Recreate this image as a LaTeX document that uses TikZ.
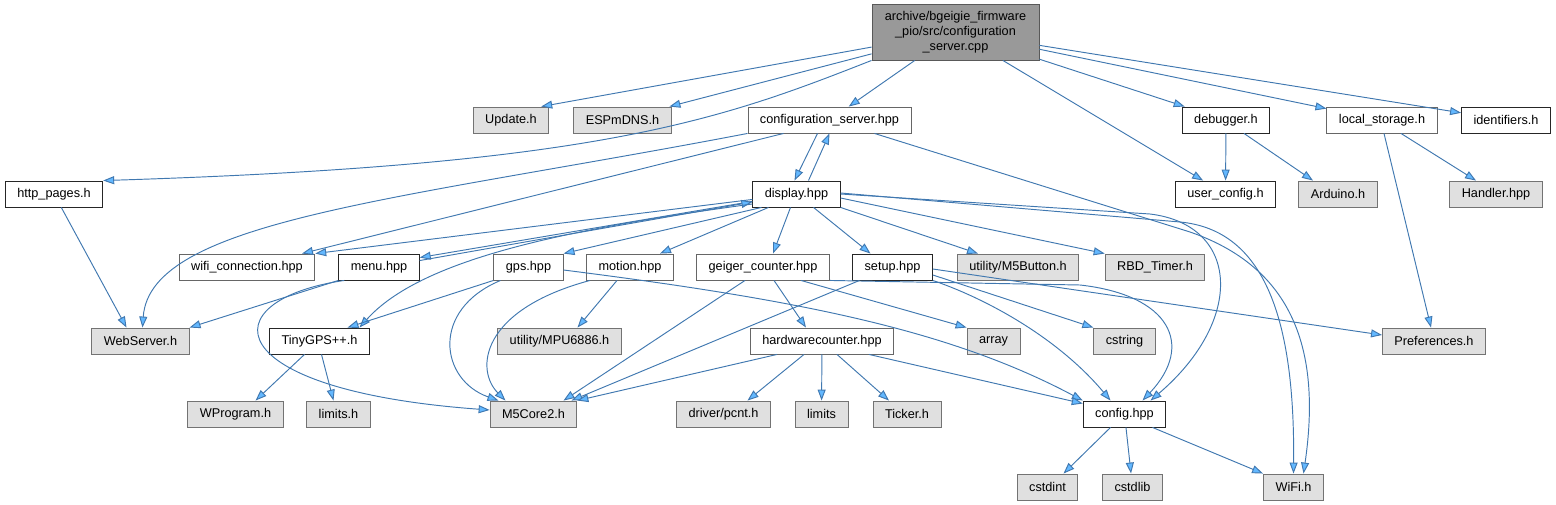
\documentclass[tikz,border=0pt]{standalone}
\usepackage{fontspec}
\setmainfont{Liberation Sans}
\usetikzlibrary{arrows.meta}
\definecolor{edgeblue}{RGB}{64,120,176}
\definecolor{tipblue}{RGB}{99,184,255}
\definecolor{extfill}{RGB}{224,224,224}
\definecolor{mainfill}{RGB}{153,153,153}
\begin{document}
\begin{tikzpicture}[x=1pt,y=-1pt,
  every node/.style={font=\fontsize{12.7}{15}\selectfont, inner xsep=12pt, inner ysep=0pt, minimum height=26pt},
  doc/.style={draw=black!85, fill=white, line width=0.9pt},
  docg/.style={draw=black!60, fill=white, line width=0.9pt},
  ext/.style={draw=black!55, fill=extfill, line width=0.9pt},
  mainfile/.style={draw=black!65, fill=mainfill, line width=0.9pt, align=center, minimum width=167pt, minimum height=56pt},
  inc/.style={draw=edgeblue, line width=0.95pt, -{Triangle[length=11pt,width=8pt,fill=tipblue]}}]
\useasboundingbox (0,0) rectangle (1556,505);

% the file itself
\node[mainfile] (mainf) at (955.5,32) {archive/bgeigie\_firmware\\\_pio/src/configuration\\\_server.cpp};

% first row
\node[ext] (upd) at (511,120) {Update.h};
\node[ext] (esp) at (622.5,120) {ESPmDNS.h};
\node[docg] (cfgsrv) at (829.5,120) {configuration\_server.hpp};
\node[doc] (dbg) at (1226,120) {debugger.h};
\node[docg] (lstore) at (1382,120) {local\_storage.h};
\node[doc] (ident) at (1506,120) {identifiers.h};

% second row
\node[doc] (http) at (54,194) {http\_pages.h};
\node[doc] (disp) at (796.5,194) {display.hpp};
\node[doc] (ucfg) at (1225.5,194) {user\_config.h};
\node[ext] (ard) at (1338,194) {Arduino.h};
\node[ext] (hand) at (1496,194) {Handler.hpp};

% third row
\node[docg] (wific) at (247,267) {wifi\_connection.hpp};
\node[doc] (menu) at (379,267) {menu.hpp};
\node[docg] (gps) at (528.5,267) {gps.hpp};
\node[docg] (motion) at (630,267) {motion.hpp};
\node[docg] (geiger) at (763,267) {geiger\_counter.hpp};
\node[doc] (setup) at (892.5,267) {setup.hpp};
\node[ext] (mbtn) at (1018,267) {utility/M5Button.h};
\node[ext] (rbd) at (1155,267) {RBD\_Timer.h};

% fourth row
\node[ext] (web) at (140.5,341) {WebServer.h};
\node[doc] (tiny) at (319.5,341) {TinyGPS++.h};
\node[ext] (mpu) at (559.5,341) {utility/MPU6886.h};
\node[docg] (hwc) at (822,341) {hardwarecounter.hpp};
\node[ext] (arr) at (993.5,341) {array};
\node[ext] (cstr) at (1124.5,341) {cstring};
\node[ext] (pref) at (1434,341) {Preferences.h};

% fifth row
\node[ext] (wprog) at (235.5,414) {WProgram.h};
\node[ext] (limh) at (338.5,414) {limits.h};
\node[ext] (m5) at (533.5,414) {M5Core2.h};
\node[ext] (pcnt) at (723.5,414) {driver/pcnt.h};
\node[ext] (lims) at (821.5,414) {limits};
\node[ext] (tick) at (907,414) {Ticker.h};
\node[doc] (cfg) at (1124.5,414) {config.hpp};

% last row
\node[ext] (cstdi) at (1047.5,487) {cstdint};
\node[ext] (cstdl) at (1132.5,487) {cstdlib};
\node[ext] (wifih) at (1293.5,487) {WiFi.h};

% includes of the .cpp
\draw[inc] (mainf) -- (upd.24);
\draw[inc] (mainf) -- (esp.16);
\draw[inc] (mainf.south west) .. controls (720,120) and (600,165) .. (http.north east);
\draw[inc] (mainf) -- (cfgsrv);
\draw[inc] (mainf) -- (dbg);
\draw[inc] (mainf) -- (ucfg);
\draw[inc] (mainf) -- (lstore);
\draw[inc] (mainf) -- (ident);

% configuration_server.hpp
\draw[inc] ([xshift=-12pt]cfgsrv.south) -- ([xshift=-2pt]disp.north);
\draw[inc] ([xshift=12pt]disp.north) -- (cfgsrv.south);
\draw[inc] ([xshift=-46pt]cfgsrv.south) -- ([xshift=55pt]wific.north);
\draw[inc] (cfgsrv.south west) .. controls (400,200) and (150,220) .. ([xshift=2pt]web.north);
\draw[inc] ([xshift=45pt]cfgsrv.south) -- (1190,232) .. controls (1300,270) and (1320,360) .. ([xshift=10pt]wifih.north);

% display.hpp
\draw[inc] (disp) -- (wific.north east);
\draw[inc] (disp) -- ([yshift=-4pt]menu.north east);
\draw[inc] ([yshift=-7pt]menu.north east) -- ([yshift=-8pt]disp.west);
\draw[inc] ([yshift=-10pt]disp.west) .. controls (560,230) and (420,260) .. ([xshift=40pt]tiny.north);
\draw[inc] ([xshift=-35pt]disp.south) -- (gps.north east);
\draw[inc] ([xshift=-28pt]disp.south) -- ([xshift=30pt]motion.north);
\draw[inc] ([xshift=-6pt]disp.south) -- ([xshift=10pt]geiger.north);
\draw[inc] ([xshift=17pt]disp.south) -- ([xshift=-22pt]setup.north);
\draw[inc] (disp.south east) -- ([xshift=-40pt]mbtn.north);
\draw[inc] ([yshift=-4pt]disp.east) -- (rbd.north west);
\draw[inc] (disp.east) -- (1150,214) .. controls (1240,225) and (1245,320) .. ([xshift=26pt]cfg.north);
\draw[inc] ([yshift=1pt]disp.east) -- (1180,222) .. controls (1265,230) and (1295,320) .. (wifih.north);

% menu.hpp
\draw[inc] (menu.south west) -- (web.north east);
\draw[inc] ([xshift=6pt]menu.south west) .. controls (210,300) and (215,390) .. ([yshift=4pt]m5.west);

% gps.hpp
\draw[inc] (gps.south west) -- ([xshift=28pt]tiny.north);
\draw[inc] ([xshift=-28pt]gps.south) .. controls (430,310) and (440,380) .. ([xshift=-35pt]m5.north);
\draw[inc] ([yshift=-3pt]gps.east) .. controls (800,300) and (950,330) .. (cfg.north west);

% motion.hpp
\draw[inc] ([xshift=-13pt]motion.south) -- ([xshift=18pt]mpu.north);
\draw[inc] ([xshift=-40pt]motion.south) .. controls (480,310) and (475,370) .. ([xshift=-28pt]m5.north);

% geiger_counter.hpp
\draw[inc] ([xshift=11pt]geiger.south) -- ([xshift=-16pt]hwc.north);
\draw[inc] ([xshift=-18pt]geiger.south) -- ([xshift=30pt]m5.north);
\draw[inc] ([xshift=38pt]geiger.south) -- (arr.north west);
\draw[inc] (geiger.south east) -- (1080,285) .. controls (1170,295) and (1195,345) .. ([xshift=18pt]cfg.north);

% setup.hpp
\draw[inc] ([xshift=-33pt]setup.south) -- ([xshift=38pt]m5.north);
\draw[inc] ([yshift=-8pt]setup.east) -- (cstr.north west);
\draw[inc] ([yshift=-2pt]setup.east) -- ([yshift=6pt]pref.west);
\draw[inc] (setup.south east) .. controls (990,300) and (1060,340) .. ([xshift=-14pt]cfg.north);

% hardwarecounter.hpp
\draw[inc] ([xshift=-45pt]hwc.south) -- (m5.north east);
\draw[inc] ([xshift=-18pt]hwc.south) -- ([xshift=24pt]pcnt.north);
\draw[inc] (hwc) -- (lims);
\draw[inc] ([xshift=15pt]hwc.south) -- ([xshift=-18pt]tick.north);
\draw[inc] ([xshift=47pt]hwc.south) -- ([yshift=-3pt]cfg.north west);

% the rest
\draw[inc] (http) -- ([xshift=-14pt]web.north);
\draw[inc] ([xshift=-15pt]tiny.south) -- ([xshift=20pt]wprog.north);
\draw[inc] ([xshift=2pt]tiny.south) -- ([xshift=-5pt]limh.north);
\draw[inc] (dbg) -- (ucfg);
\draw[inc] ([xshift=18pt]dbg.south) -- ([xshift=-25pt]ard.north);
\draw[inc] ([xshift=2pt]lstore.south) -- ([xshift=-3pt]pref.north);
\draw[inc] ([xshift=19pt]lstore.south) -- ([xshift=-20pt]hand.north);
\draw[inc] ([xshift=-14pt]cfg.south) -- ([xshift=16pt]cstdi.north);
\draw[inc] (cfg) -- (cstdl);
\draw[inc] ([xshift=28pt]cfg.south) -- (wifih.north west);
\end{tikzpicture}
\end{document}
